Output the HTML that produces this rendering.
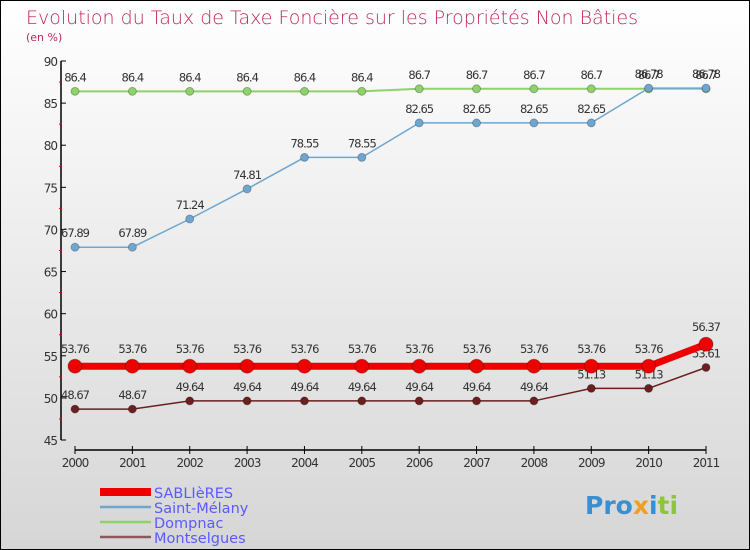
<!DOCTYPE html>
<html><head><meta charset="utf-8"><style>
html,body{margin:0;padding:0}
body{width:750px;height:550px;overflow:hidden;font-family:"DejaVu Sans","Liberation Sans",sans-serif}
#wrap{position:absolute;left:0;top:0;width:748px;height:548px;border:1px solid #000;background:linear-gradient(#ffffff,#d6d6d6)}
</style></head><body>
<div id="wrap">
<svg id="chart" width="750" height="550" style="position:absolute;left:-1px;top:-1px">
<text x="26" y="24" font-size="19" fill="#c02858" font-family="DejaVu Sans,sans-serif" font-weight="200">Evolution du Taux de Taxe Foncière sur les Propriétés Non Bâties</text>
<text x="26" y="41" font-size="11" fill="#c02858">(en %)</text>
<g id="axes"></g><g id="series"></g><g id="legend"></g>
<text x="585" y="514" font-size="25" font-weight="bold" fill="#3a8fd0">Pro<tspan fill="#f0a020">x</tspan><tspan fill="#3a8fd0">i</tspan><tspan fill="#8cc63f">ti</tspan></text>
</svg></div>
<script>
const years=["2000","2001","2002","2003","2004","2005","2006","2007","2008","2009","2010","2011"];
const yTicks=[45,50,55,60,65,70,75,80,85,90];
const sablieres=[53.76,53.76,53.76,53.76,53.76,53.76,53.76,53.76,53.76,53.76,53.76,56.37];
const saintMelany=[67.89,67.89,71.24,74.81,78.55,78.55,82.65,82.65,82.65,82.65,86.78,86.78];
const dompnac=[86.4,86.4,86.4,86.4,86.4,86.4,86.7,86.7,86.7,86.7,86.7,86.7];
const montselgues=[48.67,48.67,49.64,49.64,49.64,49.64,49.64,49.64,49.64,51.13,51.13,53.61];
const NS="http://www.w3.org/2000/svg";
const x=i=>75+i*(706-75)/(years.length-1);
const y=v=>61+(90-v)*(440-61)/45;
function mk(tag,attrs,parent,txt){const e=document.createElementNS(NS,tag);for(const k in attrs)e.setAttribute(k,attrs[k]);if(txt!==undefined)e.textContent=txt;parent.appendChild(e);return e;}
const ax=document.getElementById('axes');
let e=mk('line',{x1:61,y1:61,x2:61,y2:440,stroke:'#000','stroke-width':1.5},ax);

yTicks.forEach(t=>{mk('line',{x1:61,y1:y(t),x2:66,y2:y(t),stroke:'#000'},ax);
 e=mk('text',{x:57,y:y(t)+5,'font-size':12,fill:'#333','text-anchor':'end','letter-spacing':'-1'},ax,String(t));
 
 if(t<90){mk('line',{x1:59,y1:y(t+2.5),x2:62,y2:y(t+2.5),stroke:'#e00'},ax);}});
e=mk('line',{x1:75,y1:450,x2:706,y2:450,stroke:'#000','stroke-width':1.5},ax);

years.forEach((yr,i)=>{mk('line',{x1:x(i),y1:446,x2:x(i),y2:454,stroke:'#000'},ax);
 e=mk('text',{x:x(i),y:467,'font-size':12,fill:'#333','text-anchor':'middle','letter-spacing':'-1'},ax,yr);
 });
const sg=document.getElementById('series');
function series(vals,color,w,r,name){
 const g=mk('g',{},sg);
 e=mk('polyline',{points:vals.map((v,i)=>x(i)+','+y(v)).join(' '),fill:'none',stroke:color,'stroke-width':w},g);
 
 vals.forEach((v,i)=>{e=mk('circle',{cx:x(i),cy:y(v),r:r,fill:color,stroke:'rgba(0,0,0,0.25)'},g);
  
  e=mk('text',{x:x(i),y:y(v)-(r+6),'font-size':11.5,fill:'#333','text-anchor':'middle','letter-spacing':'-1'},g,String(v));
  });
}
series(dompnac,'#8fd16a',2,4,'dompnac');
series(saintMelany,'#6fa6d0',1.5,4,'saint-melany');
series(montselgues,'#6b1f1f',1.5,4,'montselgues');
series(sablieres,'#ee0000',7,7,'sablieres');
const lg=document.getElementById('legend');
const leg=[["SABLIèRES","#ee0000",8],["Saint-Mélany","#6fa6d0",2.5],["Dompnac","#8fd16a",2.5],["Montselgues","#8b5a5a",2.5]];
leg.forEach((l,i)=>{const ly=492+i*15;
 e=mk('line',{x1:100,y1:ly,x2:151,y2:ly,stroke:l[1],'stroke-width':l[2]},lg);
 
 e=mk('text',{x:154,y:ly+6,'font-size':14.5,fill:'#5a5aff'},lg,l[0]);
 });
</script>
</body></html>
